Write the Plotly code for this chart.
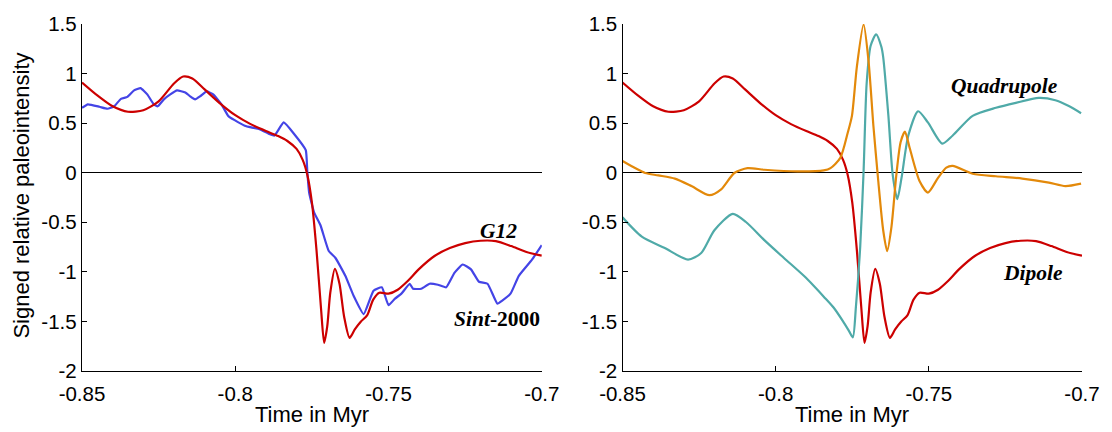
import plotly.graph_objects as go

# ---- Time axis (Myr) and series values ----
g12_t = [-0.85, -0.845, -0.84, -0.835, -0.83, -0.825, -0.82, -0.817, -0.814, -0.81,
         -0.805, -0.80, -0.795, -0.79, -0.786, -0.783, -0.780, -0.778, -0.7765, -0.775,
         -0.7735, -0.772, -0.771, -0.770, -0.769, -0.7675, -0.766, -0.7645, -0.7627, -0.761,
         -0.759, -0.757, -0.755, -0.753, -0.750, -0.747, -0.744, -0.740, -0.735, -0.73,
         -0.725, -0.72, -0.715, -0.71, -0.705, -0.70]
g12_v = [0.91, 0.78, 0.67, 0.615, 0.63, 0.72, 0.90, 0.97, 0.95, 0.84,
         0.70, 0.58, 0.49, 0.42, 0.37, 0.32, 0.24, 0.13, -0.02, -0.30,
         -0.78, -1.38, -1.716, -1.55, -1.21, -0.97, -1.12, -1.45, -1.665, -1.58,
         -1.50, -1.44, -1.28, -1.21, -1.22, -1.18, -1.10, -0.97, -0.84, -0.76,
         -0.71, -0.686, -0.69, -0.74, -0.80, -0.837]

sint_t = [-0.85, -0.8481, -0.8443, -0.8417, -0.8395, -0.8373, -0.8352, -0.833, -0.8309, -0.8287,
          -0.8266, -0.8253, -0.8233, -0.8212, -0.819, -0.8163, -0.8147, -0.8131, -0.8115, -0.8093,
          -0.8072, -0.8045, -0.8023, -0.8002, -0.7969, -0.7948, -0.7921, -0.7888, -0.7872, -0.7842,
          -0.7808, -0.777, -0.7765, -0.7759, -0.7743, -0.7722, -0.7695, -0.7673, -0.7641, -0.7614,
          -0.7581, -0.7549, -0.7522, -0.750, -0.7479, -0.7458, -0.7431, -0.742, -0.7393, -0.7366,
          -0.7339, -0.7312, -0.7285, -0.7258, -0.7231, -0.7205, -0.7177, -0.7145, -0.7129, -0.7102,
          -0.7075, -0.7032, -0.70]
sint_v = [0.655, 0.69, 0.665, 0.645, 0.67, 0.745, 0.765, 0.83, 0.853, 0.79,
          0.69, 0.67, 0.74, 0.79, 0.83, 0.81, 0.77, 0.74, 0.77, 0.82,
          0.79, 0.69, 0.573, 0.53, 0.474, 0.457, 0.44, 0.39, 0.375, 0.507,
          0.39, 0.227, 0.01, -0.20, -0.40, -0.53, -0.79, -0.86, -1.04, -1.24,
          -1.426, -1.19, -1.156, -1.337, -1.27, -1.22, -1.12, -1.17, -1.17, -1.12,
          -1.13, -1.156, -1.01, -0.926, -0.975, -1.10, -1.12, -1.32, -1.29, -1.22,
          -1.04, -0.877, -0.73]

quad_t = [-0.85, -0.8437, -0.8362, -0.8286, -0.8243, -0.82, -0.814, -0.8097, -0.8037, -0.7973,
          -0.7908, -0.7876, -0.7843, -0.7811, -0.778, -0.776, -0.7748, -0.7738, -0.7724, -0.7713,
          -0.7703, -0.769, -0.7672, -0.7655, -0.7649, -0.7632, -0.7618, -0.7603, -0.7589, -0.7567,
          -0.7535, -0.7503, -0.7456, -0.7422, -0.7357, -0.7281, -0.7216, -0.7141, -0.7087, -0.7043,
          -0.7003]
quad_v = [-0.45, -0.645, -0.76, -0.876, -0.81, -0.58, -0.415, -0.497, -0.68, -0.86,
          -1.04, -1.14, -1.25, -1.36, -1.50, -1.60, -1.66, -1.35, -0.745, 0.013,
          0.90, 1.28, 1.396, 1.27, 1.166, 0.573, -0.02, -0.267, -0.05, 0.375,
          0.62, 0.507, 0.293, 0.375, 0.573, 0.655, 0.705, 0.754, 0.731, 0.672,
          0.60]

flow_t = [-0.85, -0.8459, -0.8426, -0.8383, -0.8329, -0.8275, -0.8216, -0.8178, -0.8135, -0.8092,
          -0.8037, -0.7929, -0.7843, -0.7821, -0.7789, -0.7765, -0.7751, -0.7735, -0.7713, -0.7697,
          -0.7681, -0.7665, -0.7649, -0.7636, -0.7622, -0.7606, -0.7592, -0.7578, -0.7562, -0.753,
          -0.7503, -0.747, -0.7443, -0.7422, -0.7357, -0.7281, -0.7195, -0.7108, -0.7054, -0.7003]
flow_v = [0.119, 0.047, -0.003, -0.027, -0.06, -0.135, -0.227, -0.168, -0.003, 0.046,
          0.03, 0.013, 0.023, 0.046, 0.15, 0.40, 0.573, 1.067, 1.495, 1.13,
          0.474, -0.086, -0.58, -0.79, -0.546, -0.02, 0.31, 0.415, 0.244, -0.086,
          -0.20, -0.052, 0.052, 0.069, -0.01, -0.036, -0.059, -0.10, -0.135, -0.11]

x_ticks = [-0.85, -0.8, -0.75, -0.7]
x_ticklabels = ["-0.85", "-0.8", "-0.75", "-0.7"]
y_ticks = [-2, -1.5, -1, -0.5, 0, 0.5, 1, 1.5]
y_ticklabels = ["-2", "-1.5", "-1", "-0.5", "0", "0.5", "1", "1.5"]

RED = "#CC0000"
BLUE = "#4444E6"
TEAL = "#4FAAA8"
ORANGE = "#E3890A"

fig = go.Figure()

def line(x, y, color, xa, ya, smooth=0.7):
    return go.Scatter(x=x, y=y, mode="lines", xaxis=xa, yaxis=ya,
                      line=dict(color=color, width=2.2, shape="spline", smoothing=smooth),
                      showlegend=False, hoverinfo="skip")

# left panel: Sint-2000 vs G12
fig.add_trace(line(sint_t, sint_v, BLUE, "x", "y", smooth=0.4))
fig.add_trace(line(g12_t, g12_v, RED, "x", "y"))
# right panel: field components
fig.add_trace(line(g12_t, g12_v, RED, "x2", "y2"))
fig.add_trace(line(quad_t, quad_v, TEAL, "x2", "y2"))
fig.add_trace(line(flow_t, flow_v, ORANGE, "x2", "y2"))

tick_font = dict(family="Liberation Sans, Arial, sans-serif", size=20.5, color="black")

xcommon = dict(range=[-0.85, -0.7], tickvals=x_ticks, ticktext=x_ticklabels,
               ticks="inside", ticklen=5, tickwidth=1, tickcolor="black",
               showline=True, linecolor="black", linewidth=1.4, mirror=False,
               showgrid=False, zeroline=False, tickfont=tick_font, ticklabelstandoff=4)
ycommon = dict(range=[-2, 1.5], tickvals=y_ticks, ticktext=y_ticklabels,
               ticks="inside", ticklen=5, tickwidth=1, tickcolor="black",
               showline=True, linecolor="black", linewidth=1.4, mirror=False,
               showgrid=False, zeroline=True, zerolinecolor="black", zerolinewidth=1.2,
               tickfont=tick_font)

fig.update_layout(
    width=1112, height=432,
    margin=dict(l=82, r=22, t=16, b=61),
    paper_bgcolor="white", plot_bgcolor="white",
    xaxis=dict(xcommon, domain=[0, 0.4598], anchor="y"),
    yaxis=dict(ycommon, domain=[0, 1], anchor="x"),
    xaxis2=dict(xcommon, domain=[0.5405, 1], anchor="y2"),
    yaxis2=dict(ycommon, domain=[0, 1], anchor="x2"),
)

label_font = dict(family="Liberation Serif, Times New Roman, serif", size=21.5, color="black")
axis_title_font = dict(family="Liberation Sans, Arial, sans-serif", size=22, color="black")

annotations = [
    dict(text="<b><i>G12</i></b>", x=-0.7141, y=-0.59, xref="x", yref="y",
         showarrow=False, font=label_font, xanchor="center", yanchor="middle"),
    dict(text="<b><i>Sint</i>-2000</b>", x=-0.70, y=-1.48, xref="x", yref="y",
         showarrow=False, font=label_font, xanchor="right", yanchor="middle"),
    dict(text="<b><i>Quadrupole</i></b>", x=-0.7253, y=0.87, xref="x2", yref="y2",
         showarrow=False, font=label_font, xanchor="center", yanchor="middle"),
    dict(text="<b><i>Flow</i></b>", x=-0.6977, y=-0.26, xref="x2", yref="y2",
         showarrow=False, font=label_font, xanchor="right", yanchor="middle"),
    dict(text="<b><i>Dipole</i></b>", x=-0.716, y=-1.01, xref="x2", yref="y2",
         showarrow=False, font=label_font, xanchor="center", yanchor="middle"),
    # axis titles
    dict(text="Signed relative paleointensity", x=-0.0605, y=0.504, xref="paper", yref="paper",
         showarrow=False, font=axis_title_font, textangle=-90, xanchor="center", yanchor="middle"),
    dict(text="Time in Myr", x=0.2299, y=-0.124, xref="paper", yref="paper",
         showarrow=False, font=axis_title_font, xanchor="center", yanchor="middle"),
    dict(text="Time in Myr", x=0.7703, y=-0.124, xref="paper", yref="paper",
         showarrow=False, font=axis_title_font, xanchor="center", yanchor="middle"),
]
fig.update_layout(annotations=annotations)

fig.write_html("out.html")
